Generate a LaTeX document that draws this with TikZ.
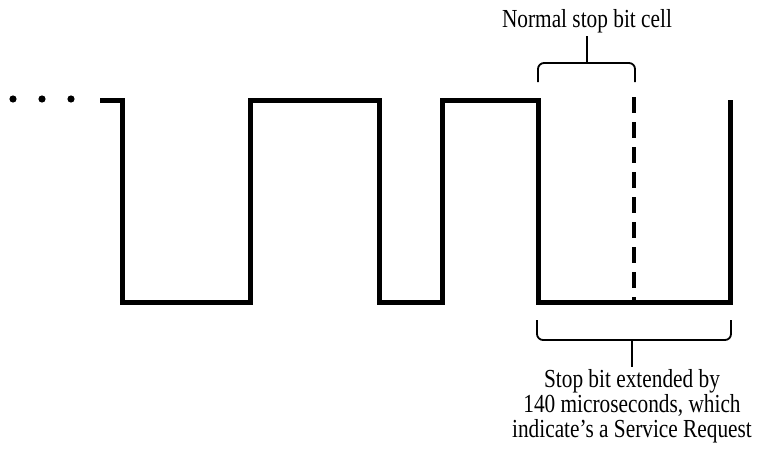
\documentclass[tikz,border=0pt]{standalone}
\usepackage{fontspec}
\setmainfont[FakeStretch=0.82]{Liberation Serif}
\begin{document}
\begin{tikzpicture}[
  x=1pt, y=-1pt,
  signal/.style={line width=5pt, line join=miter},
  brace/.style={line width=1.8pt, rounded corners=6pt},
  label/.style={font=\fontsize{26}{25}\selectfont, align=center, inner sep=0pt, outer sep=2pt}
]
  \useasboundingbox (0,0) rectangle (757,460);

  % leading dots
  \foreach \x in {13,42,71}
    \fill (\x,99) circle (3.6);

  % the bit stream
  \draw[signal] (100,100) -| (122,302) -| (250,100) -| (379,302) -| (442,100)
    -| (538,302) -| (730,100);
  \draw[signal, line width=4.5pt, dash pattern=on 16pt off 9pt] (634,97) -- (634,300);

  % normal stop bit cell
  \node[label, anchor=base] (cell) at (587,28) {Normal stop bit cell};
  \coordinate (cellmid) at (587,63);
  \draw[brace] (538,82) |- (cellmid) -| (635,82);
  \draw[brace] (cellmid) -- (cell.south);

  % extended stop bit
  \node[label, anchor=north] (req) at (632,367)
    {Stop bit extended by\\140 microseconds, which\\indicate’s a Service Request};
  \coordinate (reqmid) at (632,340);
  \draw[brace] (537,320) |- (reqmid) -| (731,320);
  \draw[brace] (reqmid) -- (req.north);
\end{tikzpicture}
\end{document}
